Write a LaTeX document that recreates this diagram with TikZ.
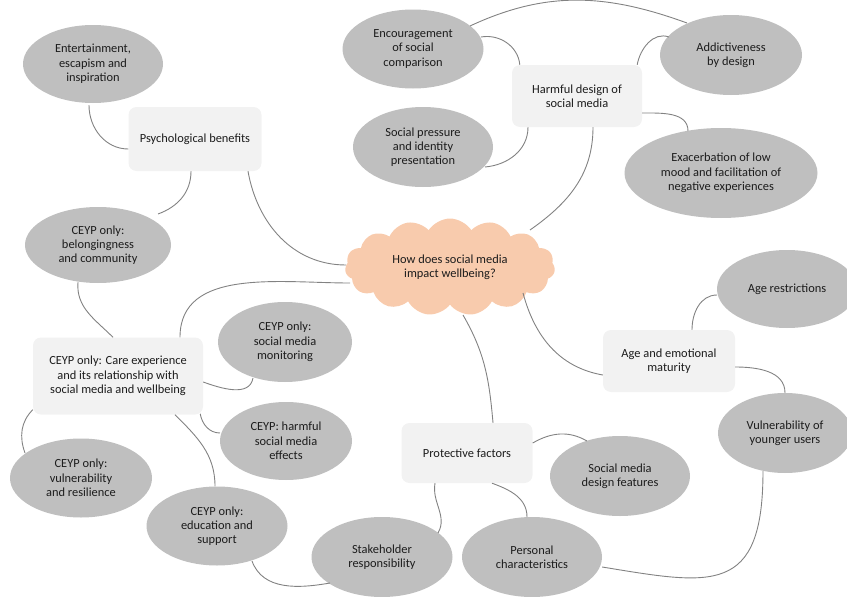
\documentclass[tikz,border=0pt]{standalone}
\usepackage{fontspec}
\setmainfont{Carlito}
\usetikzlibrary{shapes.geometric,shapes.symbols,calc}
\definecolor{ellfill}{RGB}{191,191,191}
\definecolor{boxfill}{RGB}{242,242,242}
\definecolor{cloudfill}{RGB}{248,203,173}
\definecolor{linecol}{RGB}{130,130,130}
\definecolor{txtcol}{RGB}{28,28,28}
\begin{document}
\begin{tikzpicture}[x=1pt,y=-1pt,
  every node/.style={font=\fontsize{12.4}{14.3}\selectfont, text=txtcol, align=center},
  oval/.style={ellipse, fill=ellfill, inner sep=0pt},
  topic/.style={rectangle, rounded corners=8pt, fill=boxfill, inner sep=2pt},
  conn/.style={draw=linecol, line width=0.9pt}]
\useasboundingbox (0,0) rectangle (847,597);
% cloud
\node[cloud, cloud puffs=15, cloud puff arc=115, aspect=2.15, fill=cloudfill,
      minimum width=210pt, minimum height=97pt, inner sep=0pt] (cloud) at (450,267) {How does social media\\impact wellbeing?};
% topics
\node[topic, minimum width=133pt, minimum height=64pt] (psy) at (195,139) {Psychological benefits};
\node[topic, minimum width=130pt, minimum height=62pt] (hd) at (577,96) {Harmful design of\\social media};
\node[topic, minimum width=170pt, minimum height=77pt] (care) at (118,376) {CEYP only: Care experience\\and its relationship with\\social media and wellbeing};
\node[topic, minimum width=131pt, minimum height=60pt] (prot) at (467,453) {Protective factors};
\node[topic, minimum width=132pt, minimum height=62pt] (age) at (669,361) {Age and emotional\\maturity};
% ovals
\node[oval, minimum width=140pt, minimum height=78pt] (ent) at (93,64) {Entertainment,\\escapism and\\inspiration};
\node[oval, minimum width=141pt, minimum height=79pt] (enc) at (413,49) {Encouragement\\of social\\comparison};
\node[oval, minimum width=140pt, minimum height=80pt] (sp) at (423,147) {Social pressure\\and identity\\presentation};
\node[oval, minimum width=142pt, minimum height=80pt] (add) at (731,55) {Addictiveness\\by design};
\node[oval, minimum width=193pt, minimum height=90pt] (exa) at (721,173) {Exacerbation of low\\mood and facilitation of\\negative experiences};
\node[oval, minimum width=146pt, minimum height=76pt] (bel) at (98,245) {CEYP only:\\belongingness\\and community};
\node[oval, minimum width=134pt, minimum height=80pt] (mon) at (285,342) {CEYP only:\\social media\\monitoring};
\node[oval, minimum width=132pt, minimum height=78pt] (harm) at (286,441) {CEYP: harmful\\social media\\effects};
\node[oval, minimum width=142pt, minimum height=79pt] (vul) at (81,478) {CEYP only:\\vulnerability\\and resilience};
\node[oval, minimum width=141pt, minimum height=79pt] (edu) at (217,526) {CEYP only:\\education and\\support};
\node[oval, minimum width=141pt, minimum height=80pt] (stake) at (382,557) {Stakeholder\\responsibility};
\node[oval, minimum width=140pt, minimum height=80pt] (pers) at (532,557) {Personal\\characteristics};
\node[oval, minimum width=140pt, minimum height=80pt] (smd) at (620,476) {Social media\\design features};
\node[oval, minimum width=140pt, minimum height=78pt] (ar) at (787,289) {Age restrictions};
\node[oval, minimum width=134pt, minimum height=80pt] (vy) at (785,433) {Vulnerability of\\younger users};
% connectors
\draw[conn] ($(ent.south)+(-4,2)$) to[out=-90,in=180] ($(psy.west)+(0,10)$);
\draw[conn] ($(psy.south)+(-4,0)$) to[out=-90,in=20] ($(bel)+(60,-31)$);
\draw[conn] ($(psy.south)+(53,0)$) to[out=-80,in=180] ($(cloud)+(-104,-2)$);
\draw[conn] ($(cloud)+(-100,16)$) to[out=180,in=90] ($(care.north)+(62,0)$);
\draw[conn] ($(bel)+(-20,37)$) to[out=-95,in=135] ($(care.north)+(-5,0)$);
\draw[conn] ($(care.east)+(0,6)$) to[out=-20,in=-100] ($(mon)+(-32,36)$);
\draw[conn] ($(care.south east)+(-3,-1)$) to[out=-80,in=180] ($(harm)+(-66,-8)$);
\draw[conn] ($(care.south west)+(0,-5)$) to[out=-135,in=110] ($(vul)+(-56,-25)$);
\draw[conn] ($(care.south)+(57,0)$) to[out=-45,in=90] ($(edu.north)+(-2,0)$);
\draw[conn] ($(edu)+(35,35)$) to[out=-70,in=190] ($(stake)+(-52,26)$);
\draw[conn] ($(stake)+(56,-24)$) to[out=60,in=-100] ($(prot.south)+(-32,0)$);
\draw[conn] ($(prot.south)+(25,0)$) to[out=-20,in=90] ($(pers)+(-5,-40)$);
\draw[conn] ($(prot.east)+(0,-10)$) to[out=30,in=150] ($(smd)+(-33,-35)$);
\draw[conn] ($(cloud)+(13,48)$) to[out=-60,in=95] ($(prot.north)+(26,0)$);
\draw[conn] ($(cloud)+(73,26)$) to[out=-75,in=170] ($(age.west)+(0,14)$);
\draw[conn] ($(cloud)+(80,-37)$) to[out=35,in=-90] ($(hd.south)+(16,0)$);
\draw[conn] ($(hd.north west)+(8,0)$) to[out=95,in=10] ($(enc)+(68,-12)$);
\draw[conn] ($(enc)+(57,-23)$) to[out=25,in=160] ($(add)+(-44,-32)$);
\draw[conn] ($(hd.north east)+(-5,0)$) to[out=80,in=160] ($(add)+(-62,-18)$);
\draw[conn] ($(sp)+(62,20)$) to[out=5,in=-90] ($(hd.south)+(-49,0)$);
\draw[conn] ($(hd.east)+(0,17)$) to[out=0,in=90] ($(exa)+(-33,-42)$);
\draw[conn] ($(age.north)+(23,0)$) to[out=90,in=180] ($(ar)+(-70,6)$);
\draw[conn] ($(age.east)+(0,6)$) to[out=0,in=90] (vy.north);
\draw[conn] ($(vy)+(-22,38)$) .. controls +(0,125) and +(110,18) .. ($(pers.east)+(0,10)$);
\end{tikzpicture}
\end{document}
